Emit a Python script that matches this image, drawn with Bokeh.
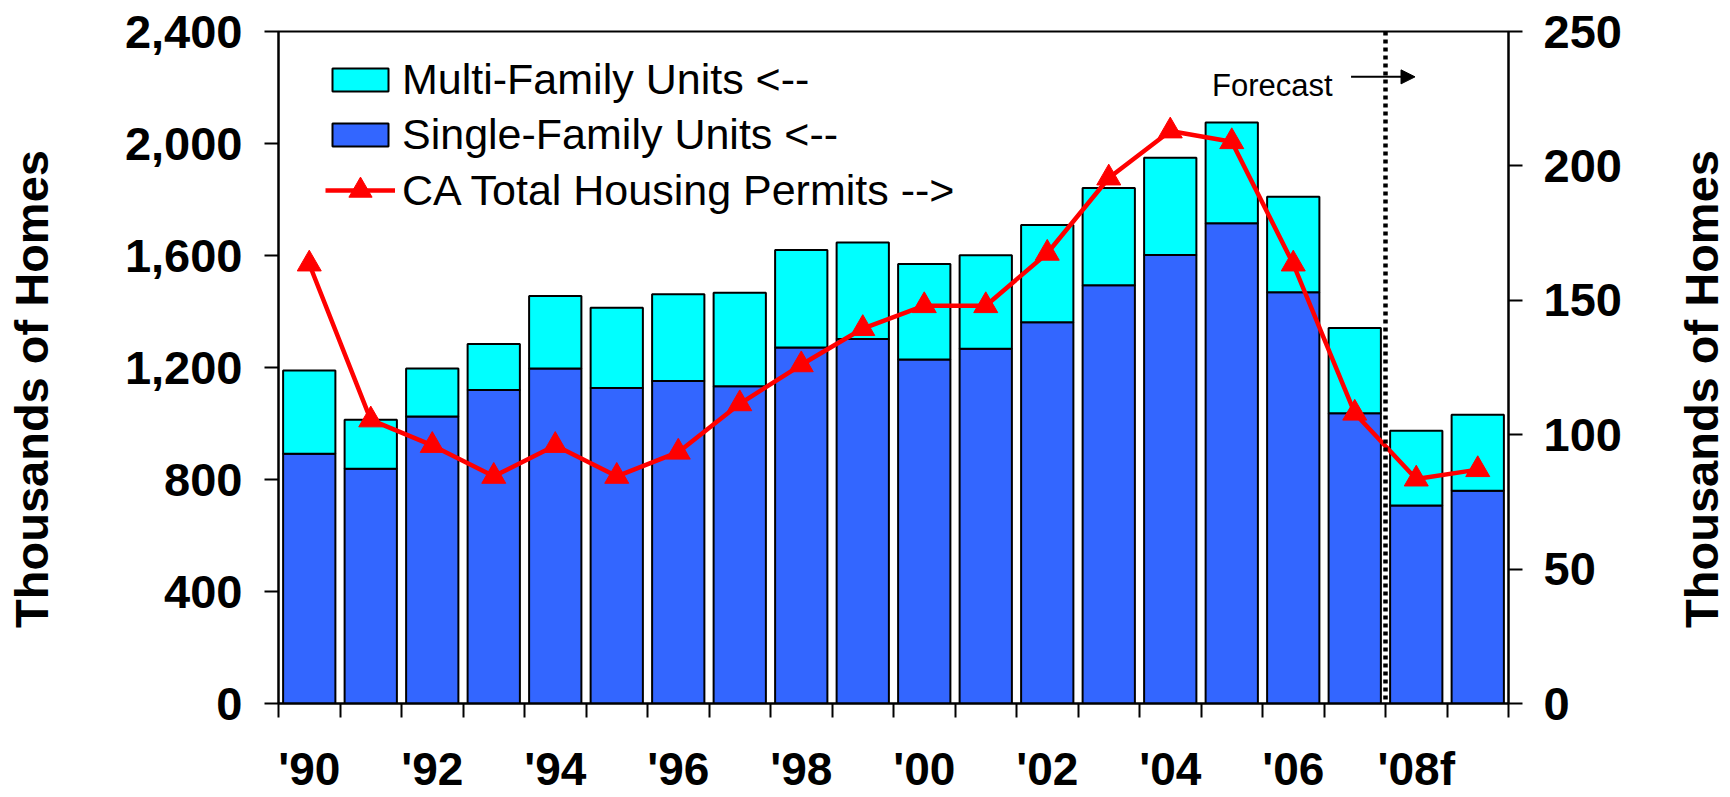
import math
from bokeh.plotting import figure
from bokeh.layouts import row
from bokeh.models import (Range1d, LinearAxis, FixedTicker, NumeralTickFormatter, Legend,
                          LegendItem, Span, Label, Arrow, NormalHead, ColumnDataSource)
from bokeh.core.validation import silence
from bokeh.core.validation.warnings import MISSING_RENDERERS
from bokeh.embed import file_html
from bokeh.resources import INLINE

silence(MISSING_RENDERERS, True)

# ---------------- data ----------------
years = ["'90", "'91", "'92", "'93", "'94", "'95", "'96", "'97", "'98", "'99",
         "'00", "'01", "'02", "'03", "'04", "'05", "'06", "'07", "'08f", "'09f"]
single_family = [892, 838, 1025, 1120, 1196, 1127, 1152, 1133, 1271, 1302,
                 1229, 1267, 1362, 1494, 1602, 1715, 1469, 1037, 707, 760]
multi_family = [297, 175, 171, 164, 259, 286, 310, 334, 349, 344,
                341, 334, 347, 347, 347, 360, 341, 304, 267, 271]
ca_permits = [163.5, 105.5, 96, 84.5, 96, 84.5, 93.5, 111.5, 126, 139.5,
              148, 148, 167.5, 195.5, 213, 209, 163.5, 108, 83.5, 87]
x_tick_labels = ["'90", "'92", "'94", "'96", "'98", "'00", "'02", "'04", "'06", "'08f"]
left_ticks = [0, 400, 800, 1200, 1600, 2000, 2400]
right_ticks = [0, 50, 100, 150, 200, 250]
forecast_start = 18  # boundary between '07 and '08f
axis_title = "Thousands of Homes"

FONT = "Liberation Sans"
BLUE = "#3366FF"
CYAN = "#00FFFF"
RED = "#FF0000"
H = 797
TOP, BOTTOM = 31, 93

n = len(years)
xs = [i + 0.5 for i in range(n)]
src = ColumnDataSource(dict(x=xs, single=single_family, multi=multi_family, ca=ca_permits))

# ---------------- main chart ----------------
p = figure(width=1588, height=H, x_range=Range1d(0, n), y_range=Range1d(0, 2400),
           output_backend="svg", toolbar_location=None,
           min_border_left=208, min_border_right=150, min_border_top=TOP, min_border_bottom=BOTTOM)
p.extra_y_ranges = {"right": Range1d(0, 250)}
p.xgrid.visible = False
p.ygrid.visible = False
p.outline_line_color = "black"
p.outline_line_width = 2
p.background_fill_color = "white"
p.border_fill_color = "white"

bars = p.vbar_stack(["single", "multi"], x="x", width=0.85, source=src,
                    fill_color=[BLUE, CYAN], line_color="black", line_width=2)

p.add_layout(Span(location=forecast_start, dimension="height", line_color="black",
                  line_width=4.5, line_dash="4 4"))

line_r = p.line("x", "ca", source=src, y_range_name="right", line_color=RED, line_width=4.5)
mark_r = p.scatter("x", "ca", source=src, y_range_name="right", marker="triangle",
                   size=24, fill_color=RED, line_color=RED)


def style_axis(ax):
    ax.axis_line_color = "black"
    ax.axis_line_width = 2
    ax.major_tick_line_color = "black"
    ax.major_tick_line_width = 2
    ax.minor_tick_line_color = None
    ax.major_tick_in = 0
    ax.major_tick_out = 14
    ax.major_label_text_font = FONT
    ax.major_label_text_font_style = "bold"
    ax.major_label_text_font_size = "47px"
    ax.major_label_text_color = "black"


yl = p.yaxis[0]
style_axis(yl)
yl.ticker = FixedTicker(ticks=left_ticks)
yl.formatter = NumeralTickFormatter(format="0,0")
yl.major_label_standoff = 22

yr = LinearAxis(y_range_name="right", ticker=FixedTicker(ticks=right_ticks))
style_axis(yr)
yr.major_label_standoff = 21
p.add_layout(yr, "right")

xa = p.xaxis[0]
style_axis(xa)
major_x = [i + 0.5 for i in range(0, n, 2)]
xa.ticker = FixedTicker(ticks=major_x, minor_ticks=list(range(n + 1)))
xa.major_label_overrides = {mx: lab for mx, lab in zip(major_x, x_tick_labels)}
xa.major_tick_out = 0
xa.minor_tick_line_color = "black"
xa.minor_tick_line_width = 2
xa.minor_tick_in = 0
xa.minor_tick_out = 14
xa.major_label_text_font_size = "46px"
xa.major_label_standoff = 25

# forecast annotation
p.add_layout(Label(x=15.18, y=2208, text="Forecast", text_align="left",
                   text_baseline="alphabetic", text_font=FONT, text_font_size="31px",
                   text_color="black"))
p.add_layout(Arrow(end=NormalHead(size=14, fill_color="black", line_color="black"),
                   x_start=17.44, y_start=2238, x_end=18.48, y_end=2238,
                   line_color="black", line_width=2))


# legends (bars, and the line with a full-size marker)
def style_legend(lg, glyph_h):
    lg.label_text_font = FONT
    lg.label_text_font_size = "43px"
    lg.label_text_color = "black"
    lg.glyph_width = 70
    lg.glyph_height = glyph_h
    lg.label_standoff = 7
    lg.spacing = 6
    lg.padding = 0
    lg.margin = 0
    lg.background_fill_alpha = 0
    lg.border_line_alpha = 0


legend_bars = Legend(items=[
    LegendItem(label="Multi-Family Units <--", renderers=[bars[1]]),
    LegendItem(label="Single-Family Units <--", renderers=[bars[0]]),
], location=(47, 544))
style_legend(legend_bars, 29)
p.add_layout(legend_bars)

legend_line = Legend(items=[
    LegendItem(label="CA Total Housing Permits -->", renderers=[line_r, mark_r]),
], location=(47, 484))
style_legend(legend_line, 58)
p.add_layout(legend_line)


# ---------------- axis titles (read bottom-to-top on both sides) ----------------
def title_strip(width, x_frac):
    f = figure(width=width, height=H, x_range=Range1d(0, 1), y_range=Range1d(0, 1),
               output_backend="svg", toolbar_location=None,
               min_border_left=0, min_border_right=0,
               min_border_top=TOP, min_border_bottom=BOTTOM)
    f.xaxis.visible = False
    f.yaxis.visible = False
    f.xgrid.visible = False
    f.ygrid.visible = False
    f.outline_line_color = None
    f.background_fill_color = "white"
    f.border_fill_color = "white"
    f.add_layout(Label(x=x_frac, y=0.468, text=axis_title, angle=math.pi / 2,
                       text_align="center", text_baseline="middle", text_font=FONT,
                       text_font_size="47px", text_font_style="bold", text_color="black"))
    return f


p_left = title_strip(70, 0.437)
p_right = title_strip(72, 0.597)

layout = row(p_left, p, p_right)
open("out.html", "w").write(file_html(layout, INLINE))
